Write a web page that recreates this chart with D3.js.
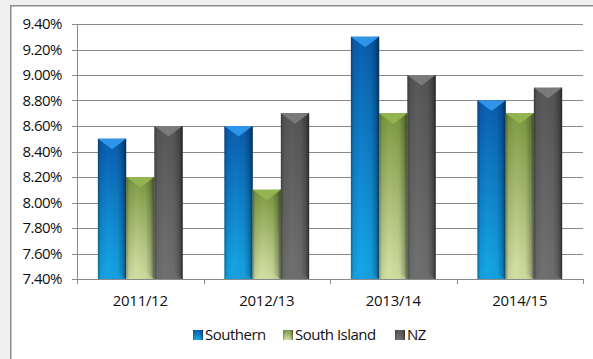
<!DOCTYPE html>
<html>
<head>
<meta charset="utf-8">
<script src="https://cdn.jsdelivr.net/npm/d3@7"></script>
<style>
  html, body { margin: 0; padding: 0; background: #f0f0f0; overflow: hidden; width: 593px; height: 359px; }
  svg { display: block; position: absolute; left: 0; top: 0; }
  text { font-family: "Open Sans", "Liberation Sans", sans-serif; fill: #111; }
</style>
</head>
<body>
<svg id="chart" width="593" height="359"></svg>
<script>
// Rates by year, three regions
const categories = ["2011/12", "2012/13", "2013/14", "2014/15"];
const seriesNames = ["Southern", "South Island", "NZ"];
const southern = [8.5, 8.6, 9.3, 8.8];
const southIsland = [8.2, 8.1, 8.7, 8.7];
const nz = [8.6, 8.7, 9.0, 8.9];
const yTicks = [7.4, 7.6, 7.8, 8.0, 8.2, 8.4, 8.6, 8.8, 9.0, 9.2, 9.4];

const seriesValues = [southern, southIsland, nz];

// Palette per series: body top, body bottom, top facet, bottom facet, edge shade
const palette = [
  { top: "#0a5db0", bottom: "#16aaea", cap: "#2f94ea", foot: "#1a9ad8", edge: "#06396e" },
  { top: "#7d9a42", bottom: "#d8e4a8", cap: "#93b451", foot: "#c9d897", edge: "#4d6425" },
  { top: "#575757", bottom: "#727272", cap: "#7a7a7a", foot: "#6e6e6e", edge: "#2a2a2a" }
];

const svg = d3.select("#chart");
const W = 593, H = 359;

// chart frame: white panel, border along top and left only (rest runs off the page)
svg.append("rect").attr("x", 10).attr("y", 5).attr("width", W - 10).attr("height", H - 5)
  .attr("fill", "#ffffff");
svg.append("path").attr("d", `M10.75,${H}V5.75H${W}`)
  .attr("fill", "none").attr("stroke", "#8c8c8c").attr("stroke-width", 1.5);

const plot = { left: 77, right: 583, top: 24, bottom: 279 };

const y = d3.scaleLinear().domain([7.4, 9.4]).range([plot.bottom, plot.top]);
const x0 = d3.scaleBand().domain(categories).range([plot.left, plot.right]).paddingInner(0).paddingOuter(0);
const x1 = d3.scaleBand().domain(seriesNames).range([0, x0.bandwidth()]).paddingInner(0).paddingOuter(0.74);

const defs = svg.append("defs");
palette.forEach((p, i) => {
  const g = defs.append("linearGradient").attr("id", "body" + i)
    .attr("x1", 0).attr("y1", 0).attr("x2", 0).attr("y2", 1);
  g.append("stop").attr("offset", "0%").attr("stop-color", p.top);
  g.append("stop").attr("offset", "100%").attr("stop-color", p.bottom);
});
// side shading shared by every bar
const side = defs.append("linearGradient").attr("id", "side")
  .attr("x1", 0).attr("y1", 0).attr("x2", 1).attr("y2", 0);
[[0, 0.35], [0.1, 0.08], [0.35, 0], [0.7, 0.05], [0.88, 0.25], [1, 0.55]].forEach(([o, a]) =>
  side.append("stop").attr("offset", o).attr("stop-color", "#000").attr("stop-opacity", a));

// gridlines
svg.append("g").selectAll("line").data(yTicks).join("line")
  .attr("x1", plot.left - 5).attr("x2", plot.right)
  .attr("y1", d => Math.round(y(d)) + 0.5).attr("y2", d => Math.round(y(d)) + 0.5)
  .attr("stroke", "#8a8a8a").attr("stroke-width", 1);

// y labels
svg.append("g").selectAll("text").data(yTicks).join("text")
  .attr("x", 62).attr("y", d => y(d)).attr("dy", "0.36em")
  .attr("text-anchor", "end").attr("font-size", 15).attr("letter-spacing", -0.5)
  .text(d => d.toFixed(2) + "%");

// y axis line
svg.append("line").attr("x1", plot.left + 0.5).attr("x2", plot.left + 0.5)
  .attr("y1", plot.top).attr("y2", plot.bottom).attr("stroke", "#8a8a8a");

// category ticks
const bounds = categories.map(c => x0(c)).concat([plot.right]);
svg.append("g").selectAll("line").data(bounds).join("line")
  .attr("x1", d => Math.round(d) + 0.5).attr("x2", d => Math.round(d) + 0.5)
  .attr("y1", plot.bottom).attr("y2", plot.bottom + 5).attr("stroke", "#8a8a8a");

// bars
const groups = svg.append("g").selectAll("g").data(categories).join("g")
  .attr("transform", c => `translate(${x0(c)},0)`);

groups.each(function (c, ci) {
  const g = d3.select(this);
  seriesNames.forEach((s, si) => {
    const v = seriesValues[si][ci];
    const bx = x1(s), bw = x1.bandwidth();
    const by = y(v), bh = y(7.4) - by;
    const p = palette[si];
    const depth = Math.min(bw * 0.37, bh / 2);
    g.append("rect").attr("x", bx).attr("y", by).attr("width", bw).attr("height", bh)
      .attr("fill", `url(#body${si})`);
    g.append("rect").attr("x", bx).attr("y", by).attr("width", bw).attr("height", bh)
      .attr("fill", "url(#side)");
    // top facet
    g.append("path")
      .attr("d", `M${bx},${by}L${bx + bw},${by}L${bx + bw / 2},${by + depth}Z`)
      .attr("fill", p.cap);
    // bottom facet
    g.append("path")
      .attr("d", `M${bx},${by + bh}L${bx + bw},${by + bh}L${bx + bw / 2},${by + bh - depth}Z`)
      .attr("fill", p.foot).attr("opacity", 0.55);
    g.append("line").attr("x1", bx + bw - 0.5).attr("x2", bx + bw - 0.5)
      .attr("y1", by).attr("y2", by + bh).attr("stroke", p.edge).attr("stroke-opacity", 0.5);
  });
});

// category labels
svg.append("g").selectAll("text").data(categories).join("text")
  .attr("x", c => x0(c) + x0.bandwidth() / 2).attr("y", 301).attr("dy", "0.36em")
  .attr("text-anchor", "middle").attr("font-size", 15).attr("letter-spacing", -0.3)
  .text(c => c);

// legend
const legendX = [193, 283, 395];
const legend = svg.append("g").selectAll("g").data(seriesNames).join("g")
  .attr("transform", (d, i) => `translate(${legendX[i]},335)`);
legend.append("rect").attr("x", 0).attr("y", -5).attr("width", 10).attr("height", 10)
  .attr("fill", (d, i) => `url(#body${i})`);
legend.append("rect").attr("x", 0).attr("y", -5).attr("width", 10).attr("height", 10)
  .attr("fill", "url(#side)");
legend.append("text").attr("x", 12).attr("y", 0).attr("dy", "0.36em")
  .attr("font-size", 15).attr("letter-spacing", -0.5).text(d => d);
</script>
</body>
</html>
